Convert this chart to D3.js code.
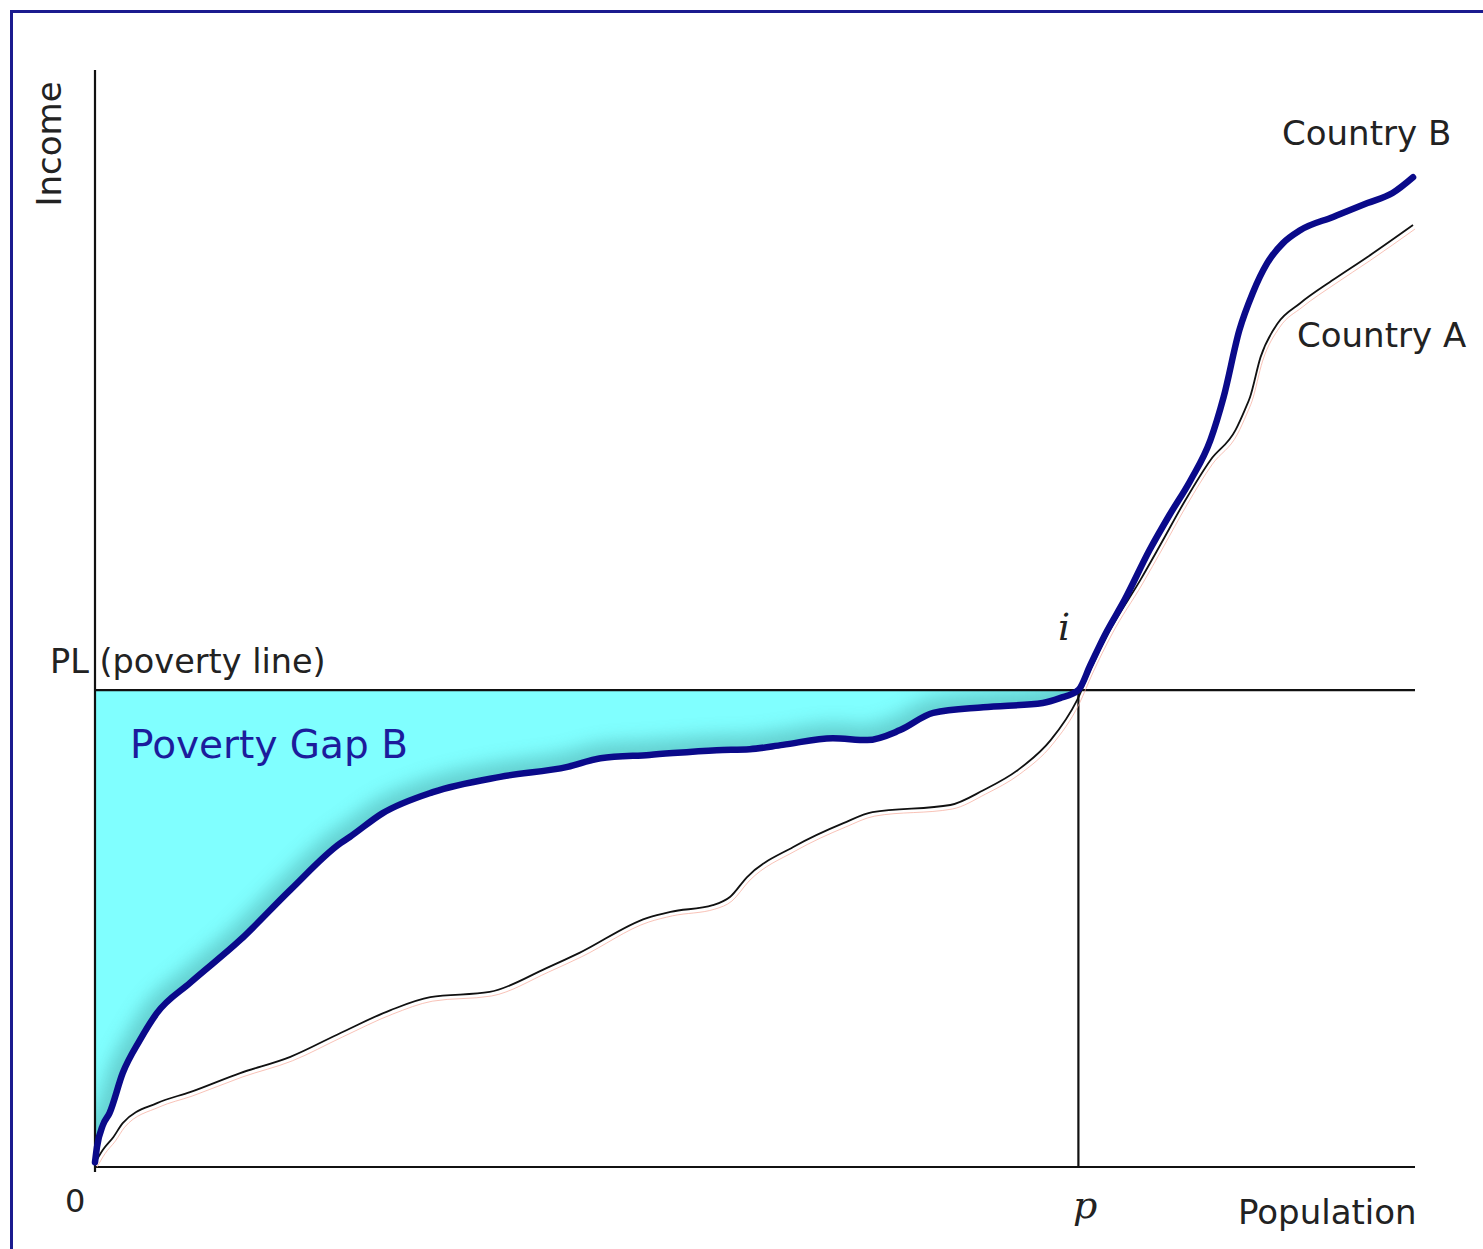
<!DOCTYPE html>
<html>
<head>
<meta charset="utf-8">
<script src="https://cdn.jsdelivr.net/npm/d3@7"></script>
<style>
  body { margin: 0; background: #fff; }
  text { font-family: "DejaVu Sans", sans-serif; }
</style>
</head>
<body>
<div id="my_dataviz"></div>
<script>
// income curves (population in %, income with PL = 100)
var popB = [0, 0.15, 0.6, 1.1, 2.1, 3.4, 4.7, 7.2, 11.0, 14.8, 18.6, 19.3, 21.8, 25.6, 30.7, 35.8, 38.3, 42.0,
  47.1, 49.6, 52.1, 55.9, 58.5, 61.0, 63.5, 67.3, 71.8, 73.1, 74.5, 75.4, 76.5, 78.0, 79.9, 81.4, 83.0,
  84.5, 85.5, 86.7, 87.7, 88.8, 90.0, 91.3, 93.8, 96.4, 98.3, 99.85];
var incomeB = [1.0, 4.2, 8.8, 11.3, 19.7, 26.6, 32.3, 38.6, 47.6, 58.1, 67.9, 69.2, 74.2, 78.6, 81.8, 83.9, 85.7, 86.4,
  87.4, 87.6, 88.5, 89.9, 89.5, 91.6, 95.2, 96.4, 97.3, 98.3, 100, 105.2, 111.5, 118.9, 129.4, 136.7, 144.0,
  152.4, 161.4, 175.5, 183.2, 189.5, 193.7, 196.4, 199.2, 202.1, 204.2, 207.5];

var popA = [0, 0.6, 1.4, 2.1, 4.7, 7.2, 11.0, 14.8, 18.6, 22.4, 25.4, 29.9, 34.2, 36.7, 41.8, 43.6, 46.8, 48.1,
  49.4, 52.9, 56.7, 58.9, 64.8, 67.3, 69.9, 72.4, 74.4, 75.4, 76.9, 79.2, 80.7, 82.6, 84.5, 86.4, 87.1,
  87.5, 88.3, 89.6, 91.3, 93.8, 96.4, 99.85];
var incomeA = [0.8, 3.6, 6.3, 9.2, 13.4, 15.7, 19.7, 23.1, 28.1, 32.9, 35.6, 36.7, 41.7, 44.9, 52.2, 53.5, 54.9, 56.6,
  60.8, 67.1, 72.1, 74.4, 75.9, 79.0, 83.2, 89.5, 97.9, 104.2, 112.6, 123.1, 130.4, 139.8, 148.2, 154.5, 158.7,
  161.4, 169.8, 176.9, 181.1, 186.0, 190.8, 197.5];

var povertyLine = 100;
var pCut = 74.5;

var dataB = popB.map(function (d, i) { return { pop: d, income: incomeB[i] }; });
var dataA = popA.map(function (d, i) { return { pop: d, income: incomeA[i] }; });
var gapB = dataB.filter(function (d) { return d.pop <= pCut; });

var W = 1483, H = 1249;

var svg = d3.select("#my_dataviz")
  .append("svg")
  .attr("width", W)
  .attr("height", H);

// scales
var x = d3.scaleLinear().domain([0, 100]).range([95, 1415]);
var y = d3.scaleLinear().domain([0, 230]).range([1167, 70]);

// frame (only top and left edges show)
svg.append("rect")
  .attr("x", 11.5)
  .attr("y", 11.5)
  .attr("width", W + 20)
  .attr("height", H + 20)
  .attr("fill", "none")
  .attr("stroke", "#1b1b8f")
  .attr("stroke-width", 3);

var defs = svg.append("defs");
defs.append("filter")
  .attr("id", "soft")
  .attr("x", "-20%").attr("y", "-20%").attr("width", "140%").attr("height", "140%")
  .append("feGaussianBlur")
  .attr("stdDeviation", 9);

var area = d3.area()
  .x(function (d) { return x(d.pop); })
  .y0(y(povertyLine))
  .y1(function (d) { return y(d.income); })
  .curve(d3.curveMonotoneX);

var line = d3.line()
  .x(function (d) { return x(d.pop); })
  .y(function (d) { return y(d.income); })
  .curve(d3.curveMonotoneX);

defs.append("clipPath")
  .attr("id", "gapclip")
  .append("path")
  .attr("d", area(gapB));

// poverty gap fill
svg.append("path")
  .attr("d", area(gapB))
  .attr("fill", "#80ffff");

// darker shade along the curve
svg.append("g")
  .attr("clip-path", "url(#gapclip)")
  .append("path")
  .attr("d", line(gapB))
  .attr("fill", "none")
  .attr("stroke", "#3a8a8a")
  .attr("stroke-width", 30)
  .attr("opacity", 0.4)
  .attr("filter", "url(#soft)");

// axes and guide lines
svg.append("line")
  .attr("x1", x(0)).attr("x2", x(0))
  .attr("y1", y(230)).attr("y2", y(0) + 5)
  .attr("stroke", "#111").attr("stroke-width", 2.2);
svg.append("line")
  .attr("x1", x(0)).attr("x2", x(100))
  .attr("y1", y(0)).attr("y2", y(0))
  .attr("stroke", "#111").attr("stroke-width", 2.2);
svg.append("line")
  .attr("x1", x(0)).attr("x2", x(100))
  .attr("y1", y(povertyLine)).attr("y2", y(povertyLine))
  .attr("stroke", "#111").attr("stroke-width", 2.2);
svg.append("line")
  .attr("x1", x(pCut)).attr("x2", x(pCut))
  .attr("y1", y(povertyLine)).attr("y2", y(0))
  .attr("stroke", "#111").attr("stroke-width", 2.2);

// faint pink ghost under country A
svg.append("path")
  .attr("d", line(dataA))
  .attr("transform", "translate(2,4)")
  .attr("fill", "none")
  .attr("stroke", "#f5a898")
  .attr("stroke-width", 1)
  .attr("opacity", 0.7);

// Country A
svg.append("path")
  .attr("d", line(dataA))
  .attr("fill", "none")
  .attr("stroke", "#111")
  .attr("stroke-width", 1.8);

// Country B
svg.append("path")
  .attr("d", line(dataB))
  .attr("fill", "none")
  .attr("stroke", "#0a0a8a")
  .attr("stroke-width", 6.5)
  .attr("stroke-linejoin", "round")
  .attr("stroke-linecap", "round");

// labels
svg.append("text")
  .attr("transform", "translate(61,144) rotate(-90)")
  .attr("text-anchor", "middle")
  .attr("fill", "#222")
  .style("font-size", "34px")
  .text("Income");

svg.append("text")
  .attr("x", 50).attr("y", 673)
  .attr("fill", "#222")
  .style("font-size", "33.5px")
  .text("PL (poverty line)");

svg.append("text")
  .attr("x", 130).attr("y", 758)
  .attr("fill", "#1c1c9c")
  .style("font-size", "39px")
  .text("Poverty Gap B");

svg.append("text")
  .attr("x", 1282).attr("y", 145)
  .attr("fill", "#222")
  .style("font-size", "34px")
  .text("Country B");

svg.append("text")
  .attr("x", 1297).attr("y", 347)
  .attr("fill", "#222")
  .style("font-size", "34px")
  .text("Country A");

svg.append("text")
  .attr("x", 1238).attr("y", 1224)
  .attr("fill", "#222")
  .style("font-size", "34px")
  .text("Population");

svg.append("text")
  .attr("x", 65).attr("y", 1212)
  .attr("fill", "#222")
  .style("font-size", "32px")
  .text("0");

svg.append("text")
  .attr("x", 1073).attr("y", 1218)
  .attr("fill", "#222")
  .style("font-family", "DejaVu Serif, serif")
  .style("font-style", "italic")
  .style("font-size", "38px")
  .text("p");

svg.append("text")
  .attr("x", 1058).attr("y", 640)
  .attr("fill", "#222")
  .style("font-family", "DejaVu Serif, serif")
  .style("font-style", "italic")
  .style("font-size", "38px")
  .text("i");
</script>
</body>
</html>
